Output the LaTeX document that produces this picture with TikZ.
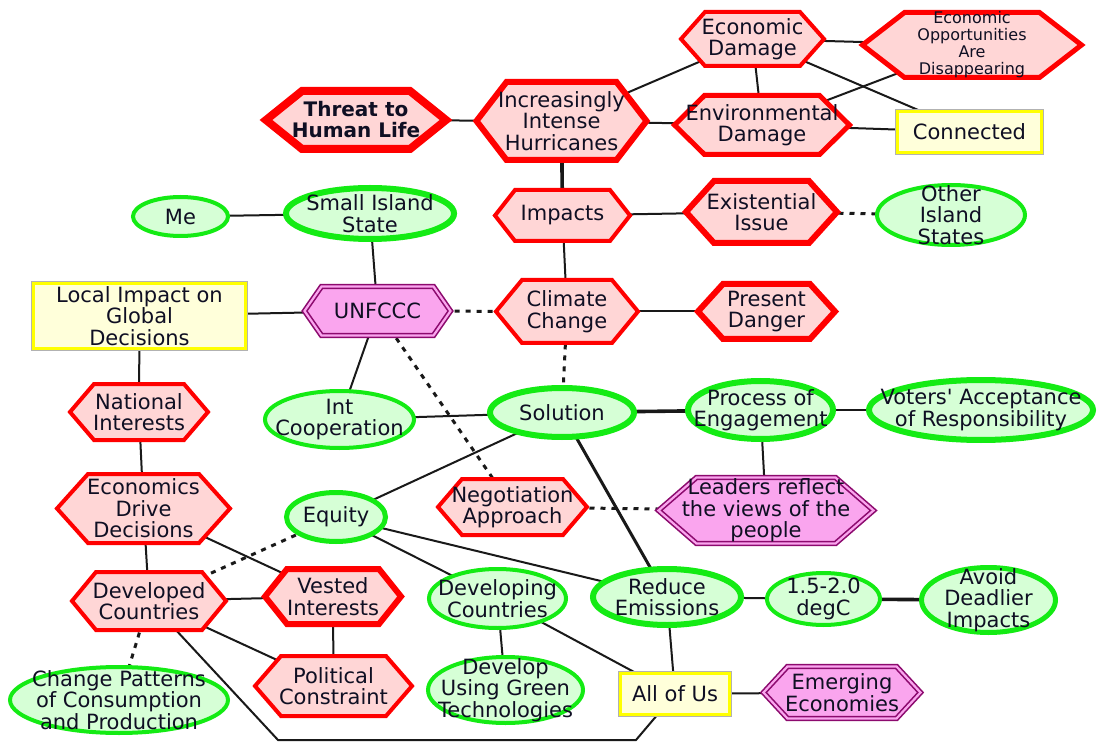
\documentclass[tikz,border=0pt]{standalone}
\usepackage{fontspec}
\setmainfont{DejaVu Sans}
\usetikzlibrary{calc}

\definecolor{hexred}{RGB}{255,0,0}
\definecolor{hexfill}{RGB}{255,214,214}
\definecolor{grn}{RGB}{20,235,20}
\definecolor{grnfill}{RGB}{214,255,214}
\definecolor{yel}{RGB}{255,255,0}
\definecolor{yelfill}{RGB}{255,255,218}
\definecolor{purp}{RGB}{140,10,110}
\definecolor{purpfill}{RGB}{250,165,238}
\definecolor{ink}{RGB}{15,15,35}
\definecolor{edgecol}{RGB}{25,25,25}

\pgfdeclarelayer{background}
\pgfdeclarelayer{links}
\pgfsetlayers{background,links,main}

\tikzset{
  lbl/.style={align=center, inner sep=0pt, text=ink, font=\fontsize{21}{21.5}\selectfont},
  smalllbl/.style={font=\fontsize{16}{17}\selectfont},
  boldlbl/.style={font=\fontsize{20}{21}\selectfont\bfseries},
  hexr/.style={draw=hexred, fill=hexfill, line width=4pt, line join=miter},
  hexrb/.style={hexr, line width=6pt},
  hexrbb/.style={hexr, line width=8pt},
  purphex/.style={draw=purp, fill=purpfill, line width=1.6pt, double=purpfill, double distance=2.2pt, line join=miter},
  ellg/.style={draw=grn, fill=grnfill, line width=4pt},
  ellgm/.style={ellg, line width=5pt},
  ellgb/.style={ellg, line width=6pt},
  yelbox/.style={draw=yel, fill=yelfill, line width=3pt, preaction={draw=black!30, line width=4.4pt}},
  link/.style={draw=edgecol, line width=2pt},
  linkb/.style={link, line width=3.6pt},
  dlink/.style={draw=edgecol, line width=3pt, dash pattern=on 5pt off 6pt},
}

% hexagon: [label opts]{name}{x}{y}{width}{height}{tip}{shape style}{text}
\newcommand{\hexnode}[9][]{%
  \path[#8] ({#3-#5/2},{#4}) -- ({#3-#5/2+#7},{#4-#6/2}) -- ({#3+#5/2-#7},{#4-#6/2})
    -- ({#3+#5/2},{#4}) -- ({#3+#5/2-#7},{#4+#6/2}) -- ({#3-#5/2+#7},{#4+#6/2}) -- cycle;
  \node[lbl,#1] (#2) at (#3,#4) {#9};}
% ellipse: [label opts]{name}{x}{y}{width}{height}{shape style}{text}
\newcommand{\ellnode}[8][]{%
  \path[#7] (#3,#4) ellipse [x radius={#5/2*1pt}, y radius={#6/2*1pt}];
  \node[lbl,#1] (#2) at (#3,#4) {#8};}
% rectangle: [label opts]{name}{x}{y}{width}{height}{shape style}{text}
\newcommand{\boxnode}[8][]{%
  \path[#7] ({#3-#5/2},{#4-#6/2}) rectangle ({#3+#5/2},{#4+#6/2});
  \node[lbl,#1] (#2) at (#3,#4) {#8};}

\begin{document}
\begin{tikzpicture}[x=1pt,y=-1pt]
\begin{pgfonlayer}{background}
  \fill[white] (0,0) rectangle (1098,743);
\end{pgfonlayer}
\useasboundingbox (0,0) rectangle (1098,743);

% red hexagons
\hexnode{ecodmg}{752.5}{39}{143}{54}{24}{hexr}{Economic\\Damage}
\hexnode[smalllbl]{ecoopp}{972}{45}{219}{65}{42}{hexr, line width=5pt}{Economic\\Opportunities\\Are\\Disappearing}
\hexnode[boldlbl]{threat}{356}{120}{180}{58}{36}{hexrbb}{Threat to\\Human Life}
\hexnode{hurr}{561.5}{121}{170}{78}{30}{hexrb}{Increasingly\\Intense\\Hurricanes}
\hexnode{envdmg}{762}{125}{175}{59}{30}{hexr, line width=5pt}{Environmental\\Damage}
\hexnode{impacts}{562.5}{215.5}{135}{51}{20}{hexr}{Impacts}
\hexnode{exist}{761.5}{212}{151}{62}{28}{hexrb}{Existential\\Issue}
\hexnode{climate}{567}{311.5}{142}{63}{26}{hexr}{Climate\\Change}
\hexnode{danger}{766.5}{311.5}{137}{55}{25}{hexrb}{Present\\Danger}
\hexnode{natint}{139}{412}{138}{56}{24}{hexr}{National\\Interests}
\hexnode{econdrive}{143.5}{508.5}{173}{69}{31}{hexr}{Economics\\Drive\\Decisions}
\hexnode{negot}{512.5}{507}{149}{56}{24}{hexr}{Negotiation\\Approach}
\hexnode{developed}{149}{601}{154}{58}{24}{hexr}{Developed\\Countries}
\hexnode{vested}{333}{596.5}{136}{55}{22}{hexrb}{Vested\\Interests}
\hexnode{political}{333.5}{686}{157}{60}{26}{hexr}{Political\\Constraint}

% purple hexagons
\hexnode{unfccc}{377.5}{311}{146}{49}{17}{purphex}{UNFCCC}
\hexnode{leaders}{766}{510.5}{215}{66}{38}{purphex}{Leaders reflect\\the views of the\\people}
\hexnode{emerging}{842}{692.5}{157}{52}{24}{purphex}{Emerging\\Economies}

% green ellipses
\ellnode{me}{180.5}{216.5}{95}{39}{ellg}{Me}
\ellnode{sis}{370}{213.5}{168}{51}{ellgb}{Small Island\\State}
\ellnode{other}{951}{215}{148}{60}{ellg}{Other\\Island\\States}
\ellnode{intcoop}{339.5}{419.5}{149}{57}{ellg}{Int\\Cooperation}
\ellnode{solution}{562}{412.5}{144}{49}{ellgb}{Solution}
\ellnode{process}{760.5}{410}{145}{58}{ellgb}{Process of\\Engagement}
\ellnode{voters}{981}{410}{224}{60}{ellgb}{Voters\textquotesingle\ Acceptance\\of Responsibility}
\ellnode{equity}{336}{517}{99}{49}{ellgm}{Equity}
\ellnode{developing}{497.5}{598.5}{137}{59}{ellg}{Developing\\Countries}
\ellnode{reduce}{667}{597}{148}{56}{ellgb}{Reduce\\Emissions}
\ellnode{degc}{823.5}{599}{113}{52}{ellg}{1.5-2.0\\degC}
\ellnode{avoid}{988.5}{600}{134}{65}{ellgm}{Avoid\\Deadlier\\Impacts}
\ellnode{change}{119}{700}{218}{66}{ellg}{Change Patterns\\of Consumption\\and Production}
\ellnode{greentech}{505.5}{690}{155}{66}{ellg}{Develop\\Using Green\\Technologies}

% yellow boxes
\boxnode{connected}{969.5}{132}{144}{41}{yelbox}{Connected}
\boxnode{localimp}{139.5}{316}{212}{65}{yelbox}{Local Impact on\\Global\\Decisions}
\boxnode{allofus}{675}{694}{109}{41}{yelbox}{All of Us}

\coordinate (bendl) at (278,740);
\coordinate (bendr) at (636,740);

\begin{pgfonlayer}{links}
  \draw[link] (threat.center) -- (hurr.center);
  \draw[link] (hurr.center) -- (ecodmg.center);
  \draw[link] (hurr.center) -- (envdmg.center);
  \draw[link] (ecodmg.center) -- (envdmg.center);
  \draw[link] (ecodmg.center) -- (ecoopp.center);
  \draw[link] (ecodmg.center) -- (connected.center);
  \draw[link] (envdmg.center) -- (ecoopp.center);
  \draw[link] (envdmg.center) -- (connected.center);
  \draw[linkb] (hurr.center) -- (impacts.center);
  \draw[link] (impacts.center) -- (exist.center);
  \draw[dlink] (exist.center) -- (other.center);
  \draw[link] (impacts.center) -- (climate.center);
  \draw[link] (climate.center) -- (danger.center);
  \draw[dlink] (unfccc.center) -- (climate.center);
  \draw[dlink] (climate.center) -- (solution.center);
  \draw[link] (me.center) -- (sis.center);
  \draw[link] (sis.center) -- (unfccc.center);
  \draw[link] (localimp.center) -- (unfccc.center);
  \draw[link] (unfccc.center) -- (intcoop.center);
  \draw[dlink] (unfccc.center) -- (negot.center);
  \draw[link] (localimp.center) -- (natint.center);
  \draw[link] (natint.center) -- (econdrive.center);
  \draw[link] (econdrive.center) -- (developed.center);
  \draw[link] (econdrive.center) -- (vested.center);
  \draw[link] (intcoop.center) -- (solution.center);
  \draw[linkb] (solution.center) -- (process.center);
  \draw[link] (process.center) -- (voters.center);
  \draw[link] (process.center) -- (leaders.center);
  \draw[dlink] (negot.center) -- (leaders.center);
  \draw[link] (solution.center) -- (equity.center);
  \draw[link, line width=3pt] (solution.center) -- (reduce.center);
  \draw[dlink] (equity.center) -- (developed.center);
  \draw[link] (equity.center) -- (developing.center);
  \draw[link] (equity.center) -- (reduce.center);
  \draw[link] (developed.center) -- (vested.center);
  \draw[link] (developed.center) -- (political.center);
  \draw[dlink] (developed.center) -- (change.center);
  \draw[link] (vested.center) -- (political.center);
  \draw[link] (developing.center) -- (greentech.center);
  \draw[link] (developing.center) -- (allofus.center);
  \draw[link] (reduce.center) -- (allofus.center);
  \draw[link] (reduce.center) -- (degc.center);
  \draw[linkb] (degc.center) -- (avoid.center);
  \draw[link] (allofus.center) -- (emerging.center);
  \draw[link] (developed.center) -- (bendl) -- (bendr) -- (allofus.center);
\end{pgfonlayer}
\end{tikzpicture}
\end{document}
